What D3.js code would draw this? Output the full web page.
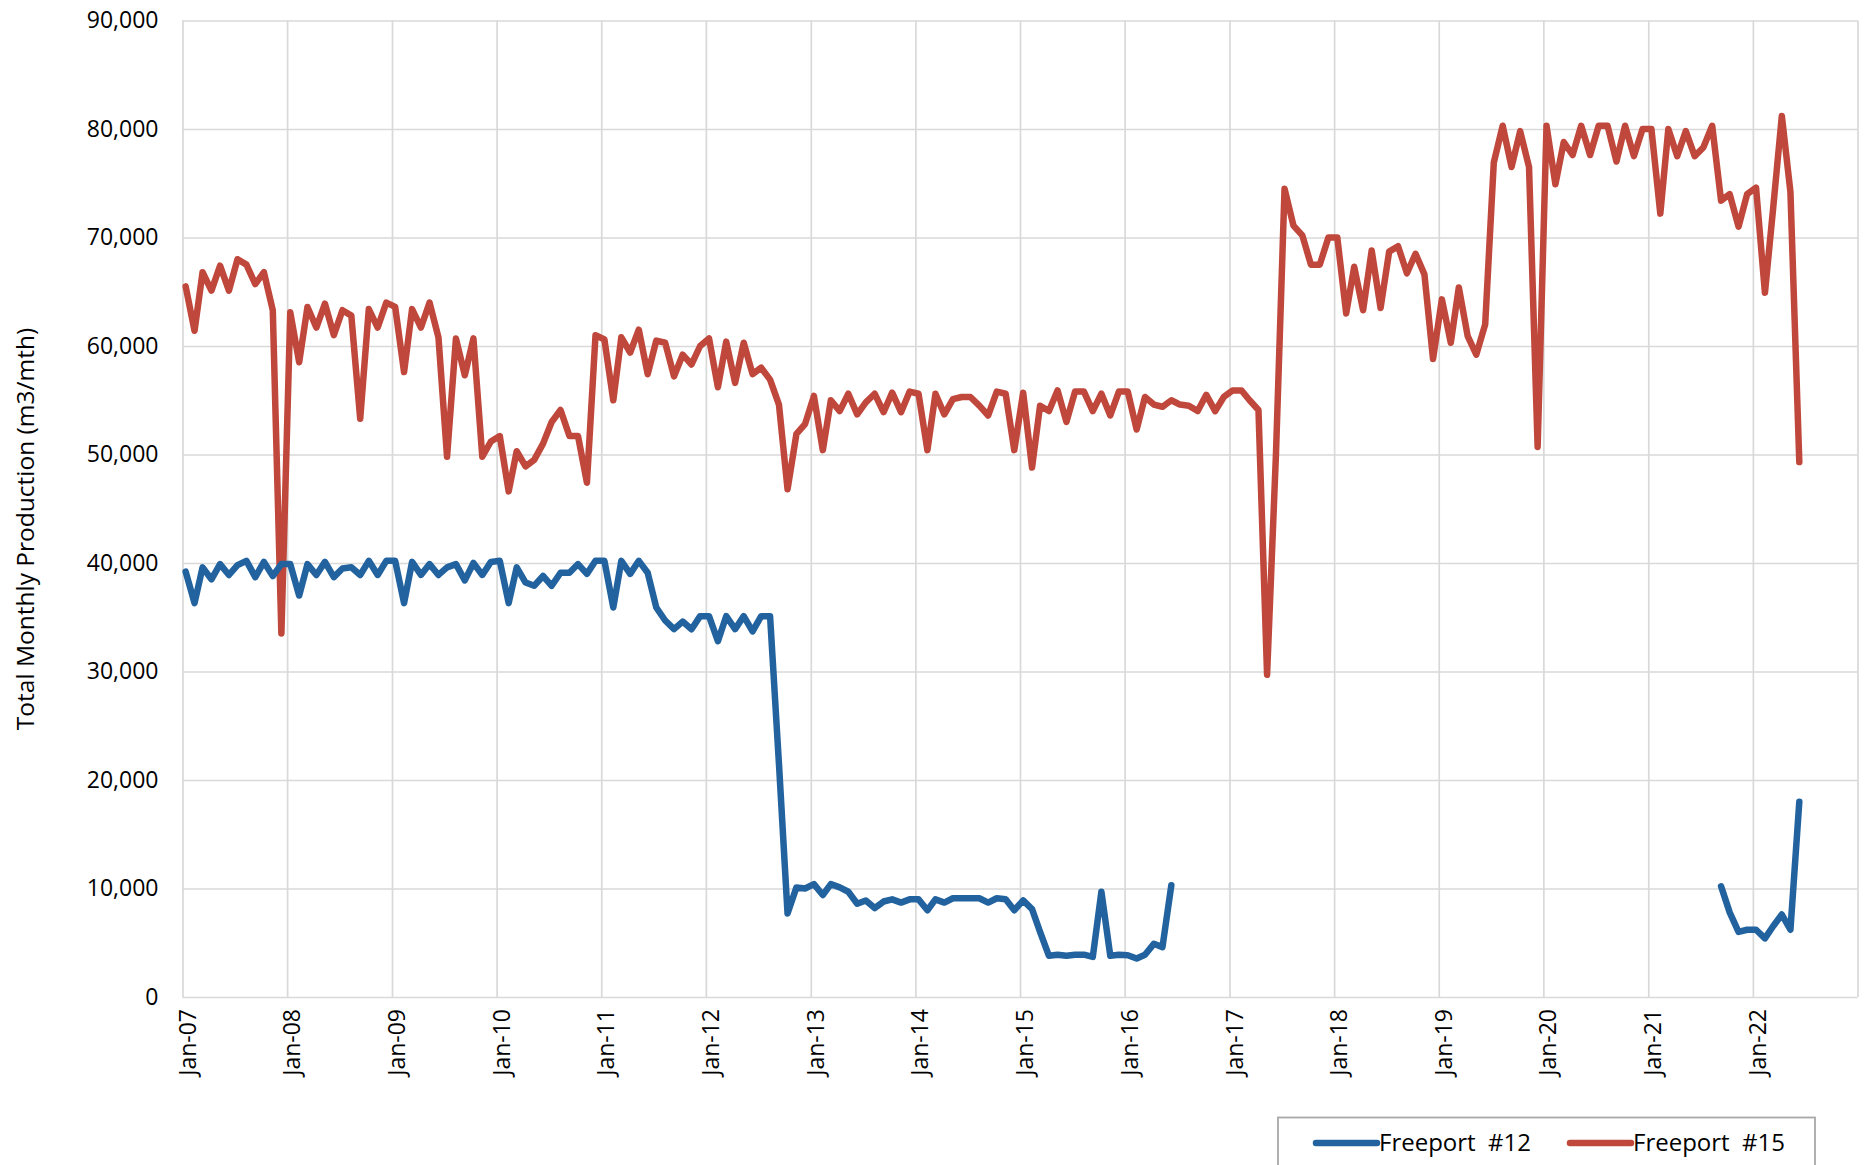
<!DOCTYPE html>
<html>
<head>
<meta charset="utf-8">
<script src="https://cdn.jsdelivr.net/npm/d3@7"></script>
<style>
  body { margin: 0; background: #ffffff; }
  svg { display: block; }
</style>
</head>
<body>
<svg id="chart" width="1864" height="1165"></svg>
<script>
// ---------------- DATA ----------------
const firstMonth = "2007-01";
const yTickValues = [0, 10000, 20000, 30000, 40000, 50000, 60000, 70000, 80000, 90000];
const xTickLabels = ["Jan-07","Jan-08","Jan-09","Jan-10","Jan-11","Jan-12","Jan-13","Jan-14",
                     "Jan-15","Jan-16","Jan-17","Jan-18","Jan-19","Jan-20","Jan-21","Jan-22"];
const seriesNames = ["Freeport  #12", "Freeport  #15"];
const yAxisTitle = "Total Monthly Production (m3/mth)";

// Freeport #12, monthly from Jan-07 (null = no data)
const freeport12 = [
  39200, 36300, 39600, 38500, 39900, 38900, 39800, 40200, 38700, 40100, 38800, 39900, // 2007
  39900, 37000, 39900, 38900, 40100, 38700, 39500, 39600, 38900, 40200, 38900, 40200, // 2008
  40200, 36300, 40100, 38900, 39900, 38900, 39600, 39900, 38400, 40000, 38900, 40100, // 2009
  40200, 36300, 39600, 38200, 37900, 38800, 37900, 39100, 39100, 39900, 39000, 40200, // 2010
  40200, 35900, 40200, 39000, 40200, 39100, 35900, 34700, 33900, 34600, 33900, 35100, // 2011
  35100, 32800, 35100, 33900, 35100, 33700, 35100, 35100, 21500,  7700, 10100, 10000, // 2012
  10400,  9400, 10400, 10100,  9700,  8600,  8900,  8200,  8800,  9000,  8700,  9000, // 2013
   9000,  8000,  9000,  8700,  9100,  9100,  9100,  9100,  8700,  9100,  9000,  8000, // 2014
   8900,  8100,  6000,  3800,  3900,  3800,  3900,  3900,  3700,  9700,  3800,  3900, // 2015
   3850,  3550,  3900,  4900,  4600, 10300,  null,  null,  null,  null,  null,  null, // 2016
   null,  null,  null,  null,  null,  null,  null,  null,  null,  null,  null,  null, // 2017
   null,  null,  null,  null,  null,  null,  null,  null,  null,  null,  null,  null, // 2018
   null,  null,  null,  null,  null,  null,  null,  null,  null,  null,  null,  null, // 2019
   null,  null,  null,  null,  null,  null,  null,  null,  null,  null,  null,  null, // 2020
   null,  null,  null,  null,  null,  null,  null,  null, 10200,  7800,  6000,  6200, // 2021
   6200,  5400,  6500,  7600,  6200, 18000                                            // 2022
];

// Freeport #15, monthly from Jan-07
const freeport15 = [
  65500, 61400, 66800, 65100, 67400, 65100, 68000, 67500, 65700, 66800, 63300, 33500, // 2007
  63100, 58500, 63600, 61700, 63900, 61000, 63300, 62800, 53300, 63400, 61700, 64000, // 2008
  63600, 57600, 63400, 61700, 64000, 60800, 49800, 60700, 57300, 60700, 49800, 51200, // 2009
  51700, 46600, 50300, 48900, 49500, 51000, 53000, 54100, 51700, 51700, 47400, 61000, // 2010
  60600, 55000, 60800, 59400, 61500, 57400, 60500, 60300, 57200, 59200, 58300, 60000, // 2011
  60700, 56200, 60400, 56600, 60300, 57400, 58000, 56900, 54600, 46800, 51900, 52800, // 2012
  55400, 50400, 55000, 54000, 55600, 53700, 54800, 55600, 53900, 55700, 53900, 55800, // 2013
  55600, 50400, 55600, 53700, 55100, 55300, 55300, 54500, 53600, 55800, 55600, 50400, // 2014
  55700, 48800, 54500, 54000, 55900, 53000, 55800, 55800, 54000, 55600, 53600, 55800, // 2015
  55800, 52300, 55300, 54600, 54400, 55000, 54600, 54500, 54000, 55500, 54000, 55300, // 2016
  55900, 55900, 55000, 54100, 29700, 50000, 74500, 71100, 70200, 67500, 67500, 70000, // 2017
  70000, 63000, 67300, 63300, 68800, 63500, 68700, 69200, 66700, 68500, 66600, 58800, // 2018
  64300, 60300, 65400, 60900, 59200, 62000, 76900, 80300, 76500, 79800, 76500, 50700, // 2019
  80300, 74900, 78800, 77600, 80300, 77600, 80300, 80300, 77000, 80300, 77500, 80000, // 2020
  80000, 72200, 80000, 77500, 79800, 77500, 78300, 80300, 73400, 74000, 71000, 74000, // 2021
  74600, 64900, 72500, 81200, 74200, 49300                                            // 2022
];

// ---------------- LAYOUT / STYLE ----------------
const W = 1864, H = 1165;
const plot = { left: 182.5, right: 1857.5, top: 20.5, bottom: 997 };
const colors = ["#22639f", "#c0473b"];
const gridColor = "#d9d9d9";
const tickFont = "'Open Sans', 'DejaVu Sans', sans-serif";
const pointDayOffset = 11; // monthly values plotted slightly after the 1st

const svg = d3.select("#chart");
svg.append("rect").attr("width", W).attr("height", H).attr("fill", "#ffffff");

const parseMonth = d3.timeParse("%Y-%m");
const start = parseMonth(firstMonth);
const dateOf = i => d3.timeDay.offset(d3.timeMonth.offset(start, i), pointDayOffset);

const x = d3.scaleTime()
  .domain([start, d3.timeYear.offset(start, 16)])
  .range([plot.left, plot.right]);
const y = d3.scaleLinear().domain([0, 90000]).range([plot.bottom, plot.top]);

// gridlines (vertical, every January incl. right edge)
const yearTicks = d3.timeYear.range(start, d3.timeYear.offset(start, 17));
svg.append("g")
  .attr("transform", `translate(0,${plot.bottom})`)
  .call(d3.axisBottom(x).tickValues(yearTicks).tickSize(-(plot.bottom - plot.top)).tickFormat(""))
  .call(g => g.select(".domain").remove())
  .call(g => g.selectAll("line").attr("stroke", gridColor).attr("stroke-width", 1.7));

// gridlines (horizontal)
svg.append("g")
  .attr("transform", `translate(${plot.left},0)`)
  .call(d3.axisLeft(y).tickValues(yTickValues).tickSize(-(plot.right - plot.left)).tickFormat(""))
  .call(g => g.select(".domain").remove())
  .call(g => g.selectAll("line").attr("stroke", gridColor).attr("stroke-width", 1.7));

// y tick labels
svg.append("g")
  .attr("transform", `translate(${plot.left},0)`)
  .call(d3.axisLeft(y).tickValues(yTickValues).tickSize(0).tickPadding(24).tickFormat(d3.format(",")))
  .call(g => g.select(".domain").remove())
  .call(g => g.selectAll("text")
    .attr("font-family", tickFont).attr("font-size", 23).attr("fill", "#000"));

// x tick labels (rotated)
const labelDates = yearTicks.slice(0, xTickLabels.length);
svg.append("g")
  .selectAll("text")
  .data(labelDates)
  .join("text")
  .attr("transform", (d) => `translate(${x(d) + 5},1009) rotate(-90)`)
  .attr("text-anchor", "end")
  .attr("dy", "0.35em")
  .attr("font-family", tickFont)
  .attr("font-size", 23)
  .attr("fill", "#000")
  .text((d, i) => xTickLabels[i]);

// y axis title
svg.append("text")
  .attr("transform", `translate(25,529) rotate(-90)`)
  .attr("text-anchor", "middle")
  .attr("dy", "0.35em")
  .attr("font-family", tickFont)
  .attr("font-size", 24.5)
  .attr("fill", "#000")
  .text(yAxisTitle);

// lines
const line = d3.line()
  .defined(d => d.v !== null)
  .x(d => x(d.date))
  .y(d => y(d.v));

[freeport15, freeport12].forEach((arr, k) => {
  const idx = k === 0 ? 1 : 0;
  const data = arr.map((v, i) => ({ date: dateOf(i), v }));
  svg.append("path")
    .datum(data)
    .attr("fill", "none")
    .attr("stroke", colors[idx])
    .attr("stroke-width", 6.5)
    .attr("stroke-linejoin", "round")
    .attr("stroke-linecap", "round")
    .attr("d", line);
});

// legend
const legend = svg.append("g");
legend.append("rect")
  .attr("x", 1278).attr("y", 1117.5).attr("width", 537).attr("height", 70)
  .attr("fill", "#fff").attr("stroke", "#a8a8a8").attr("stroke-width", 1.8);
const legendItems = [{ x: 1316 }, { x: 1570 }];
legendItems.forEach((it, i) => {
  legend.append("line")
    .attr("x1", it.x).attr("x2", it.x + 61)
    .attr("y1", 1143).attr("y2", 1143)
    .attr("stroke", colors[i]).attr("stroke-width", 6.5).attr("stroke-linecap", "round");
  legend.append("text")
    .attr("x", it.x + 63).attr("y", 1143).attr("dy", "0.35em")
    .attr("font-family", tickFont).attr("font-size", 24).attr("fill", "#000")
    .style("white-space", "pre")
    .text(seriesNames[i]);
});
</script>
</body>
</html>
